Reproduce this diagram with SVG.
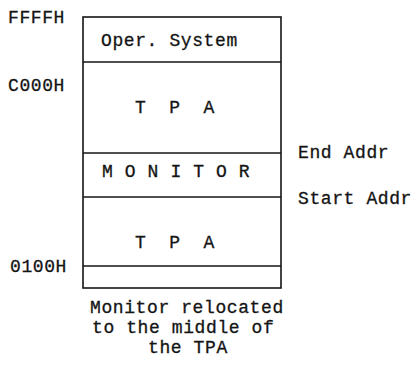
<svg xmlns="http://www.w3.org/2000/svg" width="414" height="365" viewBox="0 0 414 365">
<style>
  text { font-family: "Liberation Mono", "Courier New", monospace; font-size: 18px; letter-spacing: 0.6px; fill: #141414; stroke: #141414; stroke-width: 0.3; }
  .box { fill: #ffffff; stroke: #141414; stroke-width: 1.6; }
  .div { stroke: #141414; stroke-width: 1.6; }
</style>
<rect width="414" height="365" fill="#ffffff"/>
<g id="memory-map">
  <rect class="box" x="83" y="17" width="198" height="271"/>
  <g id="os">
    <text x="101" y="46">Oper. System</text>
  </g>
  <line class="div" x1="83" y1="62" x2="281" y2="62"/>
  <g id="tpa-upper">
    <text x="135" y="113" xml:space="preserve">T  P  A</text>
  </g>
  <line class="div" x1="83" y1="153" x2="281" y2="153"/>
  <g id="monitor">
    <text x="102" y="177">M O N I T O R</text>
  </g>
  <line class="div" x1="83" y1="197" x2="281" y2="197"/>
  <g id="tpa-lower">
    <text x="135" y="248" xml:space="preserve">T  P  A</text>
  </g>
  <line class="div" x1="83" y1="266" x2="281" y2="266"/>
</g>
<g id="addresses">
  <text x="8" y="23">FFFFH</text>
  <text x="8" y="91">C000H</text>
  <text x="10" y="272">0100H</text>
  <text x="298" y="158">End Addr</text>
  <text x="298" y="204">Start Addr</text>
</g>
<g id="caption">
  <text x="90" y="313">Monitor relocated</text>
  <text x="92" y="333">to the middle of</text>
  <text x="148" y="353">the TPA</text>
</g>
</svg>
